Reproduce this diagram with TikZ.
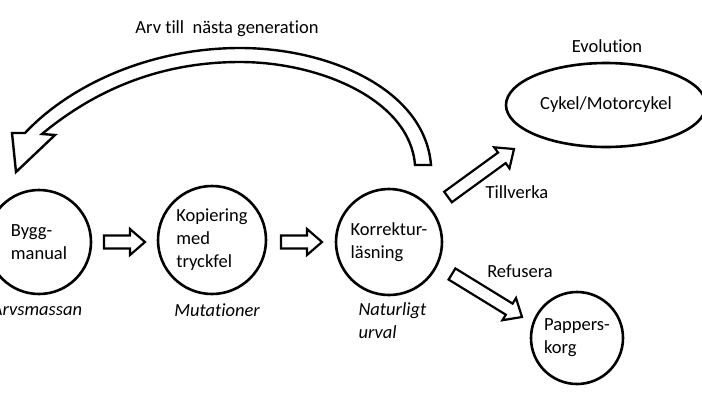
\documentclass[tikz,border=0pt]{standalone}
\usepackage{fontspec}
\setmainfont{Carlito}[Ligatures=NoCommon]
\usetikzlibrary{calc,shapes.geometric}

\newcommand{\diagfont}{\fontsize{18.5}{23}\selectfont}

\tikzset{
  stage/.style={circle, draw, line width=2.6pt, inner sep=0pt, align=left},
  note/.style={font=\diagfont\itshape},
  blockarr/.style={draw, line width=2.2pt, fill=white, line join=miter}
}

% block arrow from #1 to #2
\newcommand{\blockarrow}[2]{%
  \draw[blockarr] let \p1=($(#2)-(#1)$), \n1={atan2(\y1,\x1)}, \n2={veclen(\x1,\y1)} in
    [shift={(#1)}, rotate=\n1]
    (0,-6.5) -- (\n2-15,-6.5) -- (\n2-15,-13) -- (\n2,0) -- (\n2-15,13) -- (\n2-15,6.5) -- (0,6.5) -- cycle;}

\begin{document}
\begin{tikzpicture}[x=1pt, y=-1pt, font=\diagfont]
\useasboundingbox (0,0) rectangle (702,392);

% Stages
\node[stage, minimum size=104] (bygg) at (39,242) {Bygg-\\manual};
\node[stage, minimum size=108] (kopi) at (212,240) {Kopiering\\med\\tryckfel};
\node[stage, minimum size=106] (korr) at (389,242) {Korrektur-\\läsning};
\node[stage, minimum size=92] (papp) at (577,338) {Pappers-\\korg};
\node[ellipse, draw, line width=2.6pt, minimum width=200, minimum height=84] (cykel) at (606,105) {Cykel/Motorcykel};

% Labels
\node[note] (arvs) at (37,310) {Arvsmassan};
\node[note] (mut) at (217,310) {Mutationer};
\node[note, align=left, anchor=west] (urval) at (355,321) {Naturligt\\urval};
\node (arv) at (227,29) {Arv till\ \ nästa generation};
\node (evol) at (607,46) {Evolution};
\node (tillv) at (517,192) {Tillverka};
\node (refus) at (520,271) {Refusera};

% Arrow ends
\coordinate (b1) at (104,242);
\coordinate (b2) at (145,242);
\coordinate (k1) at (281,242);
\coordinate (k2) at (322,242);
\coordinate (t1) at (448,197);
\coordinate (t2) at (514,149);
\coordinate (r1) at (452,274);
\coordinate (r2) at (522,317);

\blockarrow{b1}{b2}
\blockarrow{k1}{k2}
\blockarrow{t1}{t2}
\blockarrow{r1}{r2}

% Arv till nasta generation (big curved arrow)
\draw[blockarr, line width=2.4pt]
  (431,165) .. controls (425,90) and (330,48) .. (240,48)
  .. controls (150,48) and (70,85) .. (25,133) -- (12,133) -- (16,172) -- (55,135) -- (42,134)
  .. controls (95,90) and (160,62) .. (240,62)
  .. controls (320,62) and (410,100) .. (415,165) -- cycle;

\end{tikzpicture}
\end{document}
